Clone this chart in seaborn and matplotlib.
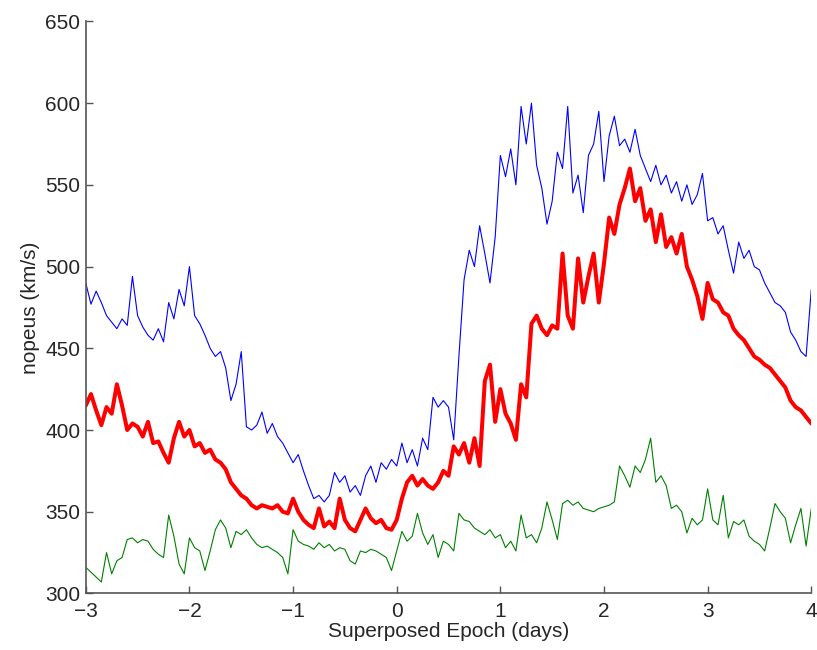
import numpy as np
import pandas as pd
import matplotlib
matplotlib.use("Agg")
import matplotlib.pyplot as plt
import seaborn as sns

# velocities, one value every 0.05 days from -3 to 4
blue_vals = [
    490, 477, 485, 478, 470, 466, 462, 468, 464, 494,
    470, 463, 458, 455, 462, 454, 478, 468, 486, 476,
    500, 470, 465, 458, 450, 445, 448, 438, 418, 428,
    448, 402, 400, 403, 411, 398, 404, 396, 392, 386,
    380, 385, 375, 366, 358, 360, 356, 360, 374, 368,
    372, 362, 366, 360, 372, 378, 368, 380, 376, 382,
    378, 392, 380, 388, 378, 395, 388, 420, 414, 418,
    414, 394, 445, 492, 510, 500, 525, 508, 490, 518,
    568, 555, 572, 550, 598, 575, 600, 562, 548, 526,
    540, 570, 560, 598, 545, 556, 533, 568, 575, 595,
    552, 580, 592, 574, 578, 570, 584, 568, 560, 552,
    562, 550, 556, 545, 552, 540, 550, 538, 544, 557,
    528, 530, 520, 525, 510, 496, 515, 505, 510, 500,
    498, 490, 484, 478, 476, 472, 460, 455, 448, 445,
    486,
]
red_vals = [
    415, 422, 412, 403, 414, 410, 428, 415, 400, 404,
    402, 396, 405, 392, 393, 386, 380, 395, 405, 396,
    400, 390, 392, 386, 388, 382, 380, 376, 368, 364,
    360, 358, 354, 352, 354, 353, 352, 354, 350, 349,
    358, 350, 345, 342, 340, 352, 341, 344, 340, 358,
    345, 340, 338, 345, 352, 346, 343, 345, 340, 339,
    345, 358, 368, 372, 366, 370, 366, 364, 368, 375,
    372, 390, 385, 392, 380, 395, 378, 430, 440, 405,
    425, 410, 404, 394, 428, 420, 465, 470, 462, 458,
    464, 462, 508, 470, 462, 505, 478, 494, 508, 478,
    502, 530, 520, 538, 548, 560, 540, 548, 528, 535,
    515, 532, 512, 518, 508, 520, 500, 492, 482, 468,
    490, 480, 478, 472, 470, 462, 458, 455, 450, 445,
    443, 440, 438, 434, 430, 426, 418, 414, 412, 408,
    404,
]
green_vals = [
    316, 313, 310, 307, 325, 312, 320, 322, 333, 334,
    331, 333, 332, 327, 324, 322, 348, 335, 318, 312,
    334, 328, 326, 314, 326, 339, 345, 340, 328, 338,
    336, 339, 334, 330, 328, 329, 327, 325, 322, 312,
    339, 332, 330, 329, 327, 331, 328, 330, 326, 328,
    327, 320, 318, 326, 325, 327, 326, 324, 322, 314,
    326, 338, 332, 335, 349, 337, 330, 336, 322, 332,
    330, 326, 349, 345, 344, 340, 338, 336, 339, 334,
    336, 328, 332, 326, 348, 334, 336, 331, 340, 356,
    345, 333, 355, 357, 354, 356, 352, 351, 350, 352,
    353, 354, 356, 378, 372, 365, 378, 374, 382, 395,
    368, 372, 366, 352, 354, 350, 337, 346, 342, 345,
    364, 345, 342, 360, 334, 344, 342, 345, 335, 332,
    330, 326, 340, 355, 350, 346, 331, 342, 352, 329,
    352,
]

x_ticks = [-3, -2, -1, 0, 1, 2, 3, 4]
y_ticks = [300, 350, 400, 450, 500, 550, 600, 650]


def epoch(vals):
    return np.linspace(-3, 4, len(vals))


sns.set_style("white")
plt.rcParams["font.family"] = ["Liberation Sans", "DejaVu Sans"]

fig = plt.figure(figsize=(8.17, 6.5), dpi=100)
ax = fig.add_axes([0.105, 0.087, 0.888, 0.880])

sns.lineplot(x=epoch(blue_vals), y=blue_vals, color=(0, 0, 1), linewidth=0.8, ax=ax)
sns.lineplot(x=epoch(green_vals), y=green_vals, color=(0, 0.5, 0), linewidth=0.8, ax=ax)
sns.lineplot(x=epoch(red_vals), y=red_vals, color=(1, 0, 0), linewidth=2.9, ax=ax)

ax.set_xlim(-3, 4)
ax.set_ylim(300, 650)
ax.set_xticks(x_ticks)
ax.set_xticklabels(["\u2212" + str(-t) if t < 0 else str(t) for t in x_ticks])
ax.set_yticks(y_ticks)
ax.tick_params(direction="in", length=5, width=1, color="#555555",
               labelsize=15, pad=4, bottom=True, left=True, top=False, right=False)
ax.tick_params(axis="x", pad=6)
for side in ["top", "right"]:
    ax.spines[side].set_visible(False)
for side in ["left", "bottom"]:
    ax.spines[side].set_color("#555555")
    ax.spines[side].set_linewidth(1.2)

ax.set_xlabel("Superposed Epoch (days)", fontsize=15, labelpad=1)
ax.set_ylabel("nopeus (km/s)", fontsize=15, labelpad=4)

fig.savefig("out.png", dpi=100)
